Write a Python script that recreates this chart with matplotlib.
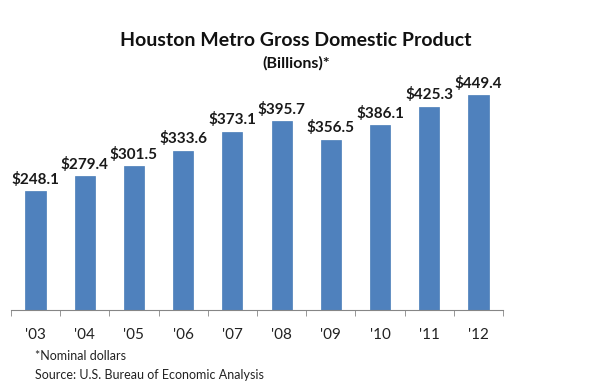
import matplotlib.pyplot as plt
import numpy as np

years = ["'03", "'04", "'05", "'06", "'07", "'08", "'09", "'10", "'11", "'12"]
gdp = [248.1, 279.4, 301.5, 333.6, 373.1, 395.7, 356.5, 386.1, 425.3, 449.4]

plt.rcParams['font.family'] = ['Lato', 'DejaVu Sans']

fig = plt.figure(figsize=(6.04, 3.9), dpi=100)
ax = fig.add_axes([0.018, 0.205, 0.815, 0.613])

x = np.arange(len(years))
ax.bar(x, gdp, width=0.41, color='#4F81BD', edgecolor='#4A7DB8', linewidth=0.5)

# value labels above bars
for xi, v in zip(x, gdp):
    ax.text(xi, v + 9, f'${v:.1f}', ha='center', va='bottom',
            fontsize=11, fontweight='bold', color='#1a1a1a')

ax.set_xlim(-0.5, len(years) - 0.5)
ax.set_ylim(0, 500)
ax.set_yticks([])
ax.set_xticks(x)
ax.set_xticklabels(years, fontsize=11, color='#222222')
ax.set_xticks(np.arange(len(years) + 1) - 0.5, minor=True)
ax.tick_params(axis='x', which='major', length=0, pad=13)
ax.tick_params(axis='x', which='minor', length=4, color='#868686', direction='out')
for s in ['top', 'right', 'left']:
    ax.spines[s].set_visible(False)
ax.spines['bottom'].set_color('#868686')

fig.text(0.49, 0.895, 'Houston Metro Gross Domestic Product', ha='center', va='center',
         fontsize=14, fontweight='bold', color='#111111')
fig.text(0.49, 0.838, '(Billions)*', ha='center', va='center',
         fontsize=11.5, fontweight='bold', color='#111111')

fig.text(0.058, 0.087, '*Nominal dollars', ha='left', va='center', fontsize=9, color='#222222')
fig.text(0.058, 0.038, 'Source: U.S. Bureau of Economic Analysis', ha='left', va='center',
         fontsize=9, color='#222222')

fig.savefig('out.png', dpi=100)
